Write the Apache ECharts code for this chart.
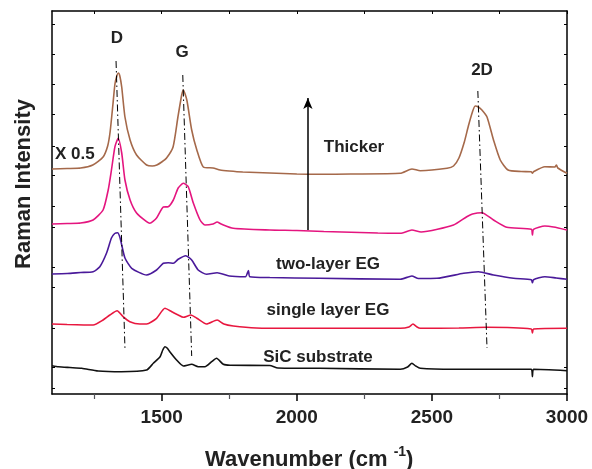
<!DOCTYPE html>
<html>
<head>
<meta charset="utf-8">
<script src="https://cdn.jsdelivr.net/npm/echarts@6/dist/echarts.min.js"></script>
<style>
    html, body { margin: 0; padding: 0; background: #fff; }
    #chart { width: 592px; height: 469px; }
</style>
</head>
<body>
<div id="chart"></div>
<script>
// Raman spectra, offset vertically (arbitrary units)
var sicSubstrate = [
    [1094, 28.3], [1118, 27.3], [1160, 26.5], [1204, 25.7], [1265, 23], [1351, 22.3], [1444, 24],
    [1469, 30.7], [1494, 37.3], [1504, 44], [1512, 47.3], [1520, 46], [1530, 42.3], [1555, 34], [1580, 28], [1611, 29.7],
    [1635, 27.3], [1660, 27.3], [1685, 32.3], [1703, 35.7], [1728, 29.7], [1753, 28.7], [1900, 28.5],
    [1930, 26], [2086, 25.7], [2383, 24.7], [2410, 27], [2426, 30.7], [2440, 28], [2457, 25.7],
    [2580, 24.7], [2868, 24.7], [2872, 17.3], [2876, 24.7], [3000, 23.3]
];
var singleLayer = [
    [1094, 70], [1150, 69.5], [1246, 69], [1283, 74], [1308, 79], [1335, 83.3], [1357, 77.3],
    [1382, 72.3], [1419, 70], [1444, 70], [1481, 75.7], [1512, 85.7], [1537, 82.3], [1561, 79],
    [1580, 76.7], [1608, 79], [1630, 75.7], [1666, 70], [1705, 74], [1730, 70], [1765, 68],
    [1850, 66], [2000, 65.7], [2383, 65.7], [2415, 67], [2430, 70], [2445, 67], [2457, 65.7],
    [2600, 66], [2703, 66.7], [2868, 65], [2872, 61], [2876, 65], [3000, 65.7]
];
var twoLayer = [
    [1094, 120], [1150, 120.5], [1200, 121.5], [1246, 122.3], [1271, 127.3], [1296, 141],
    [1314, 156], [1326, 160.5], [1337, 161.3], [1345, 157], [1352, 149], [1364, 136], [1389, 125.7], [1444, 119], [1481, 124],
    [1506, 130.7], [1524, 131.3], [1543, 130.7], [1561, 134.7], [1589, 138.3], [1611, 134],
    [1635, 124], [1666, 119.7], [1705, 121.3], [1750, 118], [1810, 117.3], [1821, 123.5],
    [1826, 117.3], [1900, 116.5], [2086, 115.7], [2383, 114.7], [2426, 118], [2450, 115.5],
    [2519, 115.7], [2617, 120.7], [2672, 122.3], [2728, 119], [2802, 115.7], [2868, 114.3],
    [2872, 111.3], [2876, 114.3], [2918, 117.3], [2960, 116], [3000, 114.7]
];
var thickerEG = [
    [1094, 170], [1150, 170.5], [1200, 171], [1246, 174], [1283, 184], [1302, 204], [1314, 224],
    [1327, 247.3], [1339, 255.7], [1352, 241], [1364, 214], [1383, 194], [1407, 181], [1444, 172.3],
    [1456, 170.7], [1481, 176], [1506, 187], [1524, 187.3], [1543, 194], [1561, 206], [1580, 210.7],
    [1598, 207.3], [1617, 191], [1642, 174], [1660, 169], [1690, 170], [1705, 172], [1720, 170],
    [1765, 165.7], [1900, 164], [2000, 163.5], [2100, 162.5], [2300, 161], [2383, 160.7],
    [2426, 164], [2460, 162], [2580, 169], [2629, 177.3], [2650, 180], [2685, 181.3], [2728, 174],
    [2777, 166.7], [2868, 164.7], [2872, 159], [2876, 164.7], [2918, 168], [2950, 167], [3000, 164]
];
var scaledEG = [
    [1094, 225], [1150, 225.5], [1200, 226], [1245, 229], [1283, 237], [1300, 248], [1309, 262],
    [1320, 291], [1327, 310], [1335, 319], [1340, 321], [1345, 318], [1352, 307], [1364, 277],
    [1383, 254], [1407, 239], [1444, 229], [1465, 228], [1482, 229], [1500, 232], [1518, 236],
    [1542, 247], [1560, 277], [1574, 299], [1580, 304], [1593, 294], [1611, 264], [1630, 244],
    [1654, 227], [1690, 226], [1716, 224], [1750, 223], [1800, 222], [1900, 221], [2000, 220],
    [2086, 219.7], [2200, 220], [2383, 220.7], [2426, 225], [2457, 223.3], [2556, 225.7],
    [2580, 228], [2600, 236], [2620, 252], [2635, 268], [2650, 282], [2660, 288], [2672, 287],
    [2685, 284], [2704, 277], [2728, 254], [2753, 234], [2782, 224], [2830, 222.5], [2868, 222.3],
    [2872, 220.7], [2876, 222.3], [2918, 227.3], [2955, 227], [2961, 229], [2966, 226], [3000, 220.7]
];

// peak guide lines (dash-dot) and the "Thicker" arrow
var lineD = [[1331, 333], [1364, 46]];
var lineG = [[1578, 319], [1611, 38]];
var line2D = [[2670, 303], [2704, 46]];
var arrowThicker = [[2041, 164], [2041, 296]];

var xLabelValues = [1500, 2000, 2500, 3000];
var xMinorTicks = [1250, 1750, 2250, 2750];
var xAllTicks = [1250, 1500, 1750, 2000, 2250, 2500, 2750, 3000];
var yTickValues = [6, 27, 66, 107, 127, 167, 188, 219, 248, 280, 310, 340, 370];

var dom = document.getElementById('chart');
var myChart = echarts.init(dom, null, { renderer: 'canvas' });

var font = 'Liberation Sans, Arial, Helvetica, sans-serif';
var frame = { show: true, lineStyle: { color: '#000', width: 1.5 } };

function guide(data) {
    return {
        type: 'line',
        data: data,
        symbol: 'none',
        silent: true,
        z: 5,
        lineStyle: { color: '#000', width: 1, type: [7, 3, 1.5, 3] }
    };
}

function spectrum(name, data, color) {
    return {
        name: name,
        type: 'line',
        data: data,
        symbol: 'none',
        smooth: 0.2,
        silent: true,
        lineStyle: { color: color, width: 1.6 }
    };
}

function note(text, x, y, align) {
    return {
        type: 'text',
        x: x,
        y: y,
        style: {
            text: text,
            fill: '#222',
            font: 'bold 17px ' + font,
            align: align || 'center',
            verticalAlign: 'middle'
        }
    };
}

var option = {
    animation: false,
    grid: { left: 52, right: 25, top: 11, bottom: 75 },
    title: {
        text: '{m|Wavenumber (cm }{s|-1}{m|)}',
        left: 200,
        top: 440,
        textStyle: {
            rich: {
                m: { fontSize: 22, fontWeight: 'bold', fontFamily: font, color: '#222' },
                s: { fontSize: 14, fontWeight: 'bold', fontFamily: font, color: '#222', padding: [0, 0, 16, 0] }
            }
        }
    },
    xAxis: [
        {
            type: 'value', min: 1094, max: 3000, position: 'bottom',
            axisLine: frame,
            splitLine: { show: false },
            axisTick: { show: true, inside: false, length: 7, customValues: xLabelValues, lineStyle: { width: 1.5 } },
            axisLabel: {
                customValues: xLabelValues, margin: 14,
                formatter: function (v) { return String(v); },
                fontSize: 19, fontWeight: 'bold', fontFamily: font, color: '#222'
            }
        },
        {
            type: 'value', min: 1094, max: 3000, position: 'bottom',
            axisLine: { show: false },
            splitLine: { show: false },
            axisTick: { show: true, inside: false, length: 5, customValues: xMinorTicks, lineStyle: { width: 1.2 } },
            axisLabel: { show: false }
        },
        {
            type: 'value', min: 1094, max: 3000, position: 'top',
            axisLine: frame,
            splitLine: { show: false },
            axisTick: { show: true, inside: true, length: 3, customValues: xAllTicks },
            axisLabel: { show: false }
        }
    ],
    yAxis: [
        {
            type: 'value', min: 0, max: 383, position: 'left',
            axisLine: frame,
            splitLine: { show: false },
            axisTick: { show: true, inside: true, length: 3, customValues: yTickValues },
            axisLabel: { show: false }
        },
        {
            type: 'value', min: 0, max: 383, position: 'right',
            axisLine: frame,
            splitLine: { show: false },
            axisTick: { show: true, inside: true, length: 3, customValues: yTickValues },
            axisLabel: { show: false }
        }
    ],
    series: [
        spectrum('SiC substrate', sicSubstrate, '#111111'),
        spectrum('single layer EG', singleLayer, '#e8173f'),
        spectrum('two-layer EG', twoLayer, '#4a1a9a'),
        spectrum('Thicker', thickerEG, '#e4157f'),
        spectrum('X 0.5', scaledEG, '#a5694a'),
        guide(lineD),
        guide(lineG),
        guide(line2D),
        {
            type: 'line',
            data: [],
            silent: true,
            markLine: {
                silent: true,
                symbol: ['none', 'arrow'],
                symbolSize: [7, 11],
                label: { show: false },
                lineStyle: { color: '#000', width: 1.5, type: 'solid' },
                data: [[{ coord: arrowThicker[0] }, { coord: arrowThicker[1] }]]
            }
        }
    ],
    graphic: [
        {
            type: 'text',
            x: 24,
            y: 184,
            rotation: Math.PI / 2,
            style: {
                text: 'Raman Intensity',
                fill: '#222',
                font: 'bold 22px ' + font,
                align: 'center',
                verticalAlign: 'middle'
            }
        },
        note('D', 117, 38),
        note('G', 182, 52),
        note('2D', 482, 70),
        note('X 0.5', 55, 154, 'left'),
        note('Thicker', 354, 147),
        note('two-layer EG', 328, 264),
        note('single layer EG', 328, 310),
        note('SiC substrate', 318, 357)
    ]
};

if (option && typeof option === 'object') {
    myChart.setOption(option);
}
</script>
</body>
</html>
